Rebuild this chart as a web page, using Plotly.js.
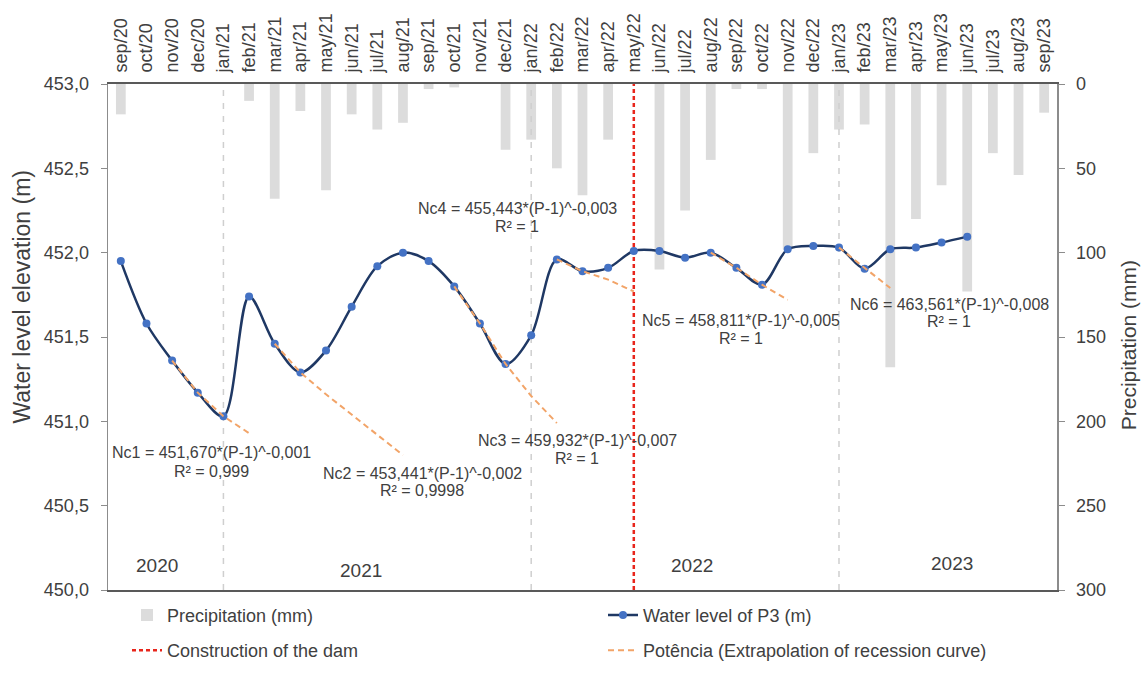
<!DOCTYPE html>
<html><head><meta charset="utf-8">
<script src="https://cdn.plot.ly/plotly-3.0.1.min.js"></script>
<style>body{margin:0;background:#fff}#chart{width:1148px;height:681px}</style>
</head><body><div id="chart"></div>
<script>
// ---------- DATA ----------
const months = ['sep/20','oct/20','nov/20','dec/20','jan/21','feb/21','mar/21','apr/21','may/21','jun/21','jul/21','aug/21',
  'sep/21','oct/21','nov/21','dec/21','jan/22','feb/22','mar/22','apr/22','may/22','jun/22','jul/22','aug/22',
  'sep/22','oct/22','nov/22','dec/22','jan/23','feb/23','mar/23','apr/23','may/23','jun/23','jul/23','aug/23','sep/23'];
const precipitation = [18,0,0,0,0,10,68,16,63,18,27,23,
  3,2,0,39,33,50,66,33,0,110,75,45,
  3,3,98,41,27,24,168,80,60,123,41,54,17];
const waterLevel = [451.95,451.58,451.36,451.17,451.03,451.74,451.46,451.29,451.42,451.68,451.92,452.00,
  451.95,451.80,451.58,451.34,451.51,451.96,451.89,451.91,452.01,452.01,451.97,452.00,
  451.91,451.81,452.02,452.04,452.03,451.905,452.02,452.03,452.06,452.095,null,null,null];

// recession curve extrapolations (power fits)
const rec1Months = ['nov/20','dec/20','jan/21','feb/21'];
const rec1Values = [451.36,451.17,451.03,450.93];
const rec2Months = ['mar/21','apr/21','may/21','jun/21','jul/21','aug/21'];
const rec2Values = [451.46,451.29,451.16,451.04,450.92,450.80];
const rec3Months = ['oct/21','nov/21','dec/21','jan/22','feb/22'];
const rec3Values = [451.80,451.58,451.34,451.15,450.99];
const rec4Months = ['feb/22','mar/22','apr/22','may/22'];
const rec4Values = [451.96,451.89,451.84,451.77];
const rec5Months = ['aug/22','sep/22','oct/22','nov/22'];
const rec5Values = [452.00,451.91,451.81,451.72];
const rec6Months = ['jan/23','feb/23','mar/23'];
const rec6Values = [452.03,451.91,451.79];

const equations = ['Nc1 = 451,670*(P-1)^-0,001','Nc2 = 453,441*(P-1)^-0,002','Nc3 = 459,932*(P-1)^-0,007',
  'Nc4 = 455,443*(P-1)^-0,003','Nc5 = 458,811*(P-1)^-0,005','Nc6 = 463,561*(P-1)^-0,008'];
const r2Labels = ['R² = 0,999','R² = 0,9998','R² = 1','R² = 1','R² = 1','R² = 1'];

const damMonth = 'may/22';
const yearSeparatorMonths = ['jan/21','jan/22','jan/23'];
const yearLabels = ['2020','2021','2022','2023'];
const waterRange = [450, 453];
const precipRange = [300, 0];

// ---------- LAYOUT HELPERS (pixel -> paper) ----------
const L = 108, R = 1057, T = 84, B = 603;
const px = v => (v - L) / (R - L);
const py = v => (B - v) / (B - T);

const textColor = '#404040';
const traces = [];

traces.push({type:'bar', x:months, y:precipitation, yaxis:'y', name:'Precipitation (mm)',
  marker:{color:'#dcdcdc'}, legend:'legend', legendrank:1, hoverinfo:'x+y'});

yearSeparatorMonths.forEach(m => traces.push({type:'scatter', mode:'lines', x:[m,m], y:waterRange, yaxis:'y2',
  line:{color:'#cfcfcf', width:1.5, dash:'6px,7px'}, showlegend:false, hoverinfo:'skip'}));

traces.push({type:'scatter', mode:'lines', x:[damMonth,damMonth], y:waterRange, yaxis:'y2',
  name:'Construction of the dam', legend:'legend2', legendrank:1,
  line:{color:'#e8251b', width:2.5, dash:'4px,3px'}});

traces.push({type:'scatter', mode:'lines+markers', x:months, y:waterLevel, yaxis:'y2',
  name:'Water level of P3 (m)', legend:'legend', legendrank:2,
  line:{color:'#1f3864', width:2.5, shape:'spline', smoothing:0.9},
  marker:{color:'#4472c4', size:8}});

const recs = [[rec1Months,rec1Values],[rec2Months,rec2Values],[rec3Months,rec3Values],
              [rec4Months,rec4Values],[rec5Months,rec5Values],[rec6Months,rec6Values]];
recs.forEach((r,i) => traces.push({type:'scatter', mode:'lines', x:r[0], y:r[1], yaxis:'y2',
  name:'Potência (Extrapolation of recession curve)', legendgroup:'rec', showlegend:i===0, legend:'legend2', legendrank:3,
  line:{color:'#f2a468', width:2, dash:'6px,4px'}}));

const annotations = [];
const eqPos = [[211,462,481],[422,483,501],[577,450,468],[517,212,230],[741,327,345],[949,310,328]];
equations.forEach((t,i) => {
  annotations.push({xref:'paper', yref:'paper', x:px(eqPos[i][0]), y:py(eqPos[i][1]), text:t, showarrow:false,
    xanchor:'center', yanchor:'middle', font:{size:16, color:textColor}});
  annotations.push({xref:'paper', yref:'paper', x:px(eqPos[i][0]), y:py(eqPos[i][2]), text:r2Labels[i], showarrow:false,
    xanchor:'center', yanchor:'middle', font:{size:16, color:textColor}});
});
const yearPos = [[157,578],[361,583],[692,578],[952,576]];
yearLabels.forEach((t,i) => annotations.push({xref:'paper', yref:'paper', x:px(yearPos[i][0]), y:py(yearPos[i][1]),
  text:t, showarrow:false, xanchor:'center', yanchor:'middle', font:{size:19, color:textColor}}));
annotations.push({xref:'paper', yref:'paper', x:px(22), y:py(302), text:'Water level elevation (m)', textangle:-90,
  showarrow:false, xanchor:'center', yanchor:'middle', font:{size:23, color:textColor}});
annotations.push({xref:'paper', yref:'paper', x:px(1128), y:py(352), text:'Precipitation (mm)', textangle:-90,
  showarrow:false, xanchor:'center', yanchor:'middle', font:{size:21, color:textColor}});

const layout = {
  width:1148, height:681,
  margin:{l:L, r:1148-R, t:T, b:681-B, pad:0},
  paper_bgcolor:'#ffffff', plot_bgcolor:'#ffffff',
  separators:', ',
  font:{family:'"Liberation Sans", Arial, sans-serif', size:18, color:textColor},
  bargap:0.62,
  showlegend:true,
  hovermode:false,
  xaxis:{type:'category', categoryorder:'array', categoryarray:months, range:[-0.5, months.length-0.5],
    side:'top', tickangle:-90, showline:true, linecolor:'#595959', linewidth:2, mirror:true,
    ticks:'', showgrid:false, zeroline:false, tickfont:{size:18, color:textColor}, ticklabelstandoff:6},
  yaxis:{range:precipRange, side:'right', tick0:0, dtick:50, showline:true, linecolor:'#8c8c8c', linewidth:1.5,
    ticks:'outside', ticklen:6, tickcolor:'#8c8c8c', showgrid:false, zeroline:false,
    tickfont:{size:18, color:textColor}, ticklabelstandoff:8},
  yaxis2:{range:waterRange, overlaying:'y', side:'left', tick0:450, dtick:0.5, tickformat:'.1f',
    showline:true, linecolor:'#8c8c8c', linewidth:1.5, ticks:'outside', ticklen:6, tickcolor:'#8c8c8c',
    showgrid:false, zeroline:false, tickfont:{size:18, color:textColor}, ticklabelstandoff:8},
  legend:{orientation:'h', x:px(127), xanchor:'left', y:py(629), yanchor:'middle', entrywidth:431, entrywidthmode:'pixels',
    font:{size:18, color:textColor}, bgcolor:'rgba(0,0,0,0)', traceorder:'normal'},
  legend2:{orientation:'h', x:px(127), xanchor:'left', y:py(665), yanchor:'middle', entrywidth:431, entrywidthmode:'pixels',
    font:{size:18, color:textColor}, bgcolor:'rgba(0,0,0,0)', traceorder:'normal'},
  annotations:annotations
};

Plotly.newPlot('chart', traces, layout, {displayModeBar:false, staticPlot:true});
</script>
</body></html>
